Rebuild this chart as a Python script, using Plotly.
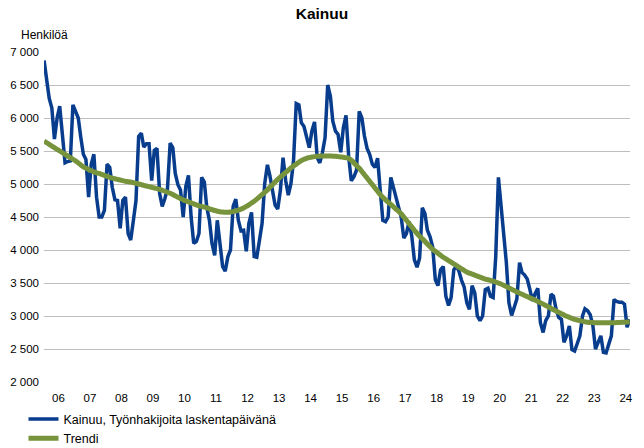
import pandas as pd
import plotly.graph_objects as go

# Kainuu, job seekers on the count day (monthly)
y2006 = [6870, 6560, 6300, 6150, 5680, 6000, 6180, 5750, 5320, 5340, 5350, 6200]
y2007 = [6100, 6000, 5720, 5450, 5370, 4800, 5300, 5450, 4800, 4500, 4500, 4600]
y2008 = [5300, 5250, 4950, 4760, 4750, 4330, 4750, 4800, 4250, 4150, 4450, 4750]
y2009 = [5720, 5770, 5560, 5610, 5610, 5050, 5510, 5540, 4860, 4660, 4780, 4930]
y2010 = [5620, 5550, 5160, 4990, 4910, 4500, 4960, 5130, 4500, 4100, 4130, 4250]
y2011 = [5100, 5030, 4650, 4450, 4100, 3920, 4450, 4100, 3750, 3680, 3900, 4000]
y2012 = [4660, 4770, 4450, 4290, 4300, 3980, 4400, 4570, 3900, 3890, 4160, 4400]
y2013 = [5010, 5290, 5130, 4880, 4680, 4620, 4900, 5400, 5050, 4830, 5010, 5360]
y2014 = [6220, 6200, 5930, 5870, 5700, 5550, 5800, 5940, 5400, 5320, 5480, 5700]
y2015 = [6500, 6330, 5950, 5800, 5750, 5480, 5850, 6040, 5410, 5050, 5110, 5210]
y2016 = [6100, 6000, 5730, 5540, 5450, 5300, 5250, 5390, 4900, 4450, 4430, 4500]
y2017 = [5100, 4950, 4800, 4660, 4500, 4180, 4250, 4430, 4210, 3850, 3740, 3880]
y2018 = [4640, 4550, 4300, 4200, 4050, 3550, 3460, 3700, 3750, 3300, 3160, 3280]
y2019 = [3700, 3760, 3680, 3540, 3440, 3200, 3100, 3460, 3350, 3000, 2930, 3000]
y2020 = [3400, 3420, 3300, 3280, 3900, 5100, 4700, 4260, 3810, 3200, 3010, 3130]
y2021 = [3260, 3810, 3660, 3620, 3560, 3400, 3230, 3340, 3420, 2900, 2750, 2930]
y2022 = [3000, 3330, 3300, 3100, 2980, 2950, 2600, 2700, 2850, 2490, 2470, 2580]
y2023 = [2700, 3000, 3110, 3080, 3020, 2850, 2500, 2600, 2700, 2450, 2440, 2570]
y2024 = [2700, 3250, 3220, 3210, 3210, 3180, 2830, 2950]

# Trend series
t2006 = [5650, 5625, 5600, 5575, 5550, 5525, 5500, 5475, 5450, 5425, 5400, 5375]
t2007 = [5350, 5320, 5290, 5260, 5240, 5220, 5200, 5185, 5170, 5160, 5145, 5130]
t2008 = [5115, 5100, 5090, 5080, 5070, 5060, 5050, 5040, 5035, 5030, 5020, 5010]
t2009 = [5000, 4990, 4980, 4970, 4960, 4950, 4940, 4930, 4920, 4905, 4890, 4875]
t2010 = [4860, 4840, 4820, 4800, 4780, 4760, 4745, 4730, 4715, 4700, 4685, 4670]
t2011 = [4660, 4650, 4640, 4625, 4610, 4598, 4588, 4580, 4575, 4572, 4572, 4575]
t2012 = [4582, 4592, 4605, 4620, 4638, 4660, 4685, 4712, 4740, 4770, 4805, 4840]
t2013 = [4875, 4910, 4950, 4990, 5030, 5070, 5105, 5140, 5175, 5210, 5245, 5275]
t2014 = [5300, 5330, 5355, 5375, 5390, 5400, 5410, 5415, 5420, 5422, 5424, 5425]
t2015 = [5425, 5425, 5422, 5420, 5415, 5410, 5405, 5398, 5390, 5360, 5320, 5280]
t2016 = [5240, 5190, 5140, 5090, 5040, 4990, 4940, 4890, 4840, 4800, 4760, 4725]
t2017 = [4690, 4655, 4620, 4585, 4550, 4500, 4450, 4400, 4350, 4300, 4250, 4210]
t2018 = [4170, 4130, 4090, 4050, 4010, 3980, 3950, 3920, 3890, 3865, 3840, 3815]
t2019 = [3790, 3765, 3740, 3715, 3690, 3665, 3650, 3635, 3620, 3605, 3590, 3575]
t2020 = [3560, 3550, 3540, 3530, 3515, 3500, 3485, 3465, 3445, 3425, 3405, 3385]
t2021 = [3365, 3345, 3330, 3310, 3295, 3275, 3260, 3240, 3220, 3200, 3180, 3160]
t2022 = [3140, 3115, 3095, 3075, 3055, 3035, 3015, 2995, 2980, 2965, 2950, 2940]
t2023 = [2930, 2920, 2912, 2906, 2902, 2900, 2898, 2897, 2896, 2896, 2896, 2897]
t2024 = [2898, 2899, 2900, 2902, 2904, 2906, 2908, 2910]

year_labels = ["06", "07", "08", "09", "10", "11", "12", "13", "14", "15",
               "16", "17", "18", "19", "20", "21", "22", "23", "24"]

series_name = "Kainuu, Työnhakijoita laskentapäivänä"
trend_name = "Trendi"
title_text = "Kainuu"
unit_text = "Henkilöä"

seekers = (y2006 + y2007 + y2008 + y2009 + y2010 + y2011 + y2012 + y2013 + y2014 +
           y2015 + y2016 + y2017 + y2018 + y2019 + y2020 + y2021 + y2022 + y2023 + y2024)
trend = (t2006 + t2007 + t2008 + t2009 + t2010 + t2011 + t2012 + t2013 + t2014 +
         t2015 + t2016 + t2017 + t2018 + t2019 + t2020 + t2021 + t2022 + t2023 + t2024)

months = pd.date_range("2006-01-01", periods=len(seekers), freq="MS")
tick_dates = [pd.Timestamp(f"20{lab}-06-16") for lab in year_labels]

FONT = "Liberation Sans, Arial, sans-serif"

fig = go.Figure()
fig.add_trace(go.Scatter(x=months, y=seekers, mode="lines", name=series_name,
                         line=dict(color="#083C8C", width=3.5)))
fig.add_trace(go.Scatter(x=months, y=trend, mode="lines", name=trend_name,
                         line=dict(color="#77933C", width=5, shape="spline")))

fig.update_layout(
    width=644, height=448,
    margin=dict(l=44, r=14, t=52, b=66, autoexpand=False),
    paper_bgcolor="white", plot_bgcolor="white",
    font=dict(family=FONT, size=12, color="#000000"),
    separators=", ",
    title=dict(text=f"<b>{title_text}</b>", x=0.5, xanchor="center",
               y=1 - 14 / 448, yanchor="middle", font=dict(size=15.5, family=FONT)),
    showlegend=True,
    legend=dict(orientation="v", x=-0.035, xanchor="left", y=-0.068, yanchor="top",
                font=dict(size=12.5, family=FONT), tracegroupgap=0, itemwidth=30,
                bgcolor="rgba(0,0,0,0)"),
    xaxis=dict(range=[months[0] - pd.Timedelta(days=1), months[-1] + pd.Timedelta(days=3)],
               showgrid=False, zeroline=False, showline=False,
               tickmode="array", tickvals=tick_dates, ticktext=year_labels,
               ticks="outside", ticklen=5, tickcolor="rgba(0,0,0,0)", automargin=False,
               tickfont=dict(size=11.5, family=FONT)),
    yaxis=dict(range=[2000, 7000], dtick=500, tick0=2000, tickformat=",d",
               showgrid=True, gridcolor="#BEBEBE", gridwidth=1.3,
               zeroline=False, showline=False, ticks="", ticklabelstandoff=4,
               automargin=False, tickfont=dict(size=11.5, family=FONT)),
    annotations=[dict(text=unit_text, xref="paper", yref="paper", x=0, y=1 + 17.5 / 330,
                      xanchor="center", yanchor="middle", showarrow=False,
                      font=dict(size=12, family=FONT))],
)

fig.write_html("out.html", config={"displayModeBar": False},
               post_script="document.body.style.margin='0';document.body.style.padding='0';")
